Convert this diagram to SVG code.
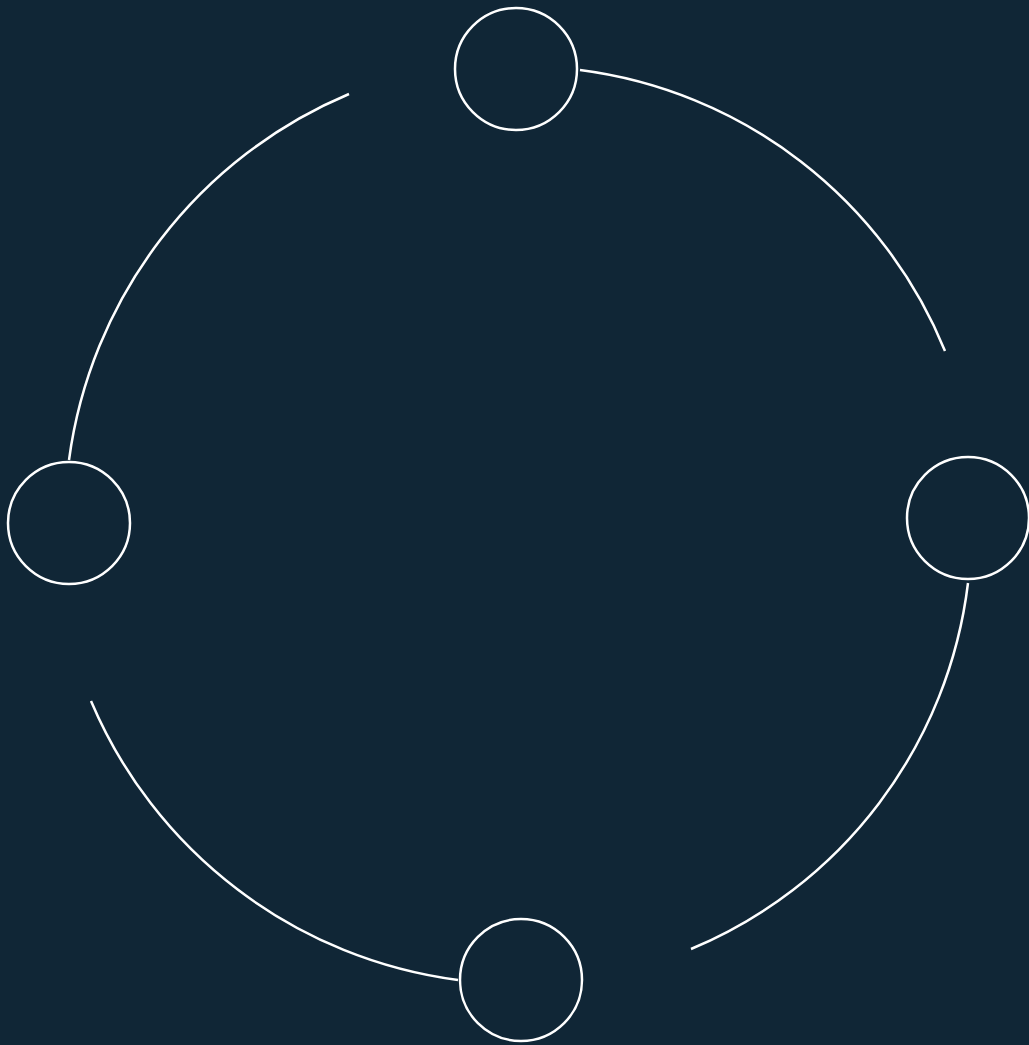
<svg xmlns="http://www.w3.org/2000/svg" width="1029" height="1045" viewBox="0 0 1029 1045">
  <style>
    .node { fill: none; stroke: #ffffff; stroke-width: 2.5; }
    .link { fill: none; stroke: #ffffff; stroke-width: 2.5; }
  </style>
  <rect x="0" y="0" width="1029" height="1045" fill="#102636"/>
  <g id="connectors">
    <path class="link" d="M580,70 A457,457 0 0 1 945,351"/>
    <path class="link" d="M968,583 A456,456 0 0 1 691,949"/>
    <path class="link" d="M458,980 A463.6,463.6 0 0 1 91,701"/>
    <path class="link" d="M69,460 A464,464 0 0 1 349,94"/>
  </g>
  <g id="node-top"><circle class="node" cx="516" cy="69" r="61"/></g>
  <g id="node-right"><circle class="node" cx="968" cy="518" r="61"/></g>
  <g id="node-bottom"><circle class="node" cx="521" cy="980" r="61"/></g>
  <g id="node-left"><circle class="node" cx="69" cy="523" r="61"/></g>
</svg>
